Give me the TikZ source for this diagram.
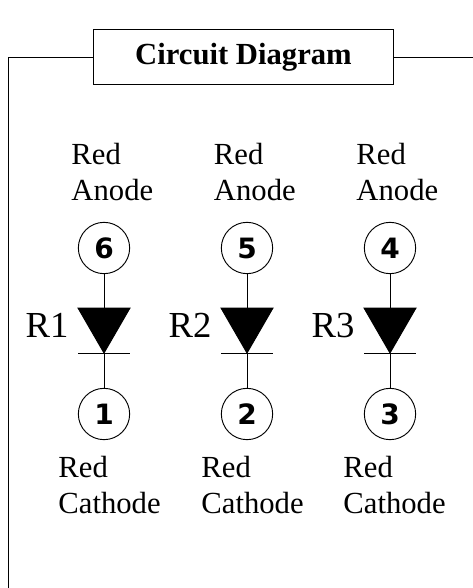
\documentclass[tikz,border=0pt]{standalone}
\usepackage{fontspec}
\setmainfont{Liberation Serif}
\newfontfamily\pinfont{DejaVu Sans}
\tikzset{
	pinnode/.style={draw, circle, minimum size=38.5pt, inner sep=0pt, font=\pinfont\bfseries\fontsize{21}{21}\selectfont},
	redtext/.style={anchor=west, align=left, inner sep=0pt, font=\fontsize{23}{27}\selectfont},
	refdes/.style={inner sep=0pt, font=\fontsize{27.5}{27.5}\selectfont},
}
\begin{document}
\begin{tikzpicture}[x=0.75pt, y=-0.75pt, line width=0.7pt]
	\useasboundingbox (0,0) rectangle (473,588);
	\node(title) [draw, minimum width=224.5pt, minimum height=41.5pt, font=\bfseries\fontsize{23}{23}\selectfont] at (243.5,57) {Circuit Diagram};
	\coordinate(corner) at (8,57);
	\coordinate(bottom) at (8,588);
	\coordinate(right) at (473,57);
	\draw(title) -- (corner) -- (bottom);
	\draw(title) -- (right);

	\node(P6) [pinnode] at (104,248) {6};
	\node(P5) [pinnode] at (247,248) {5};
	\node(P4) [pinnode] at (390,248) {4};
	\node(P1) [pinnode] at (104,414) {1};
	\node(P2) [pinnode] at (247,414) {2};
	\node(P3) [pinnode] at (390,414) {3};

	\foreach \name/\top/\bot/\x/\anode/\cathode in {R1/P6/P1/104/71/58, R2/P5/P2/247/213.5/201, R3/P4/P3/390/356/343} {
		\coordinate(\name t) at (\x,308);
		\coordinate(\name l) at (\x-26,308);
		\coordinate(\name r) at (\x+26,308);
		\coordinate(\name k) at (\x,353);
		\coordinate(\name a) at (\x-26,353);
		\coordinate(\name b) at (\x+26,353);
		\draw[fill=black] (\name l) -- (\name r) -- (\name k) -- cycle;
		\draw(\name a) -- (\name b);
		\draw(\top) -- (\name t);
		\draw(\name k) -- (\bot);
		\node(\name ref) [refdes, anchor=base east] at (\x-35,337) {\name};
		\node(\name an) [redtext] at (\anode,172) {Red\\Anode};
		\node(\name ca) [redtext] at (\cathode,485) {Red\\Cathode};
	}
\end{tikzpicture}
\end{document}
